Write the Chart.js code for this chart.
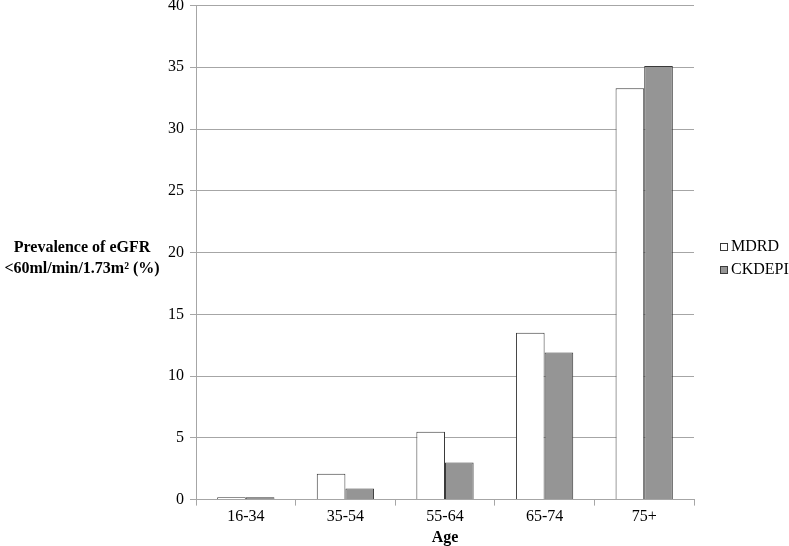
<!DOCTYPE html>
<html>
<head>
<meta charset="utf-8">
<script src="https://cdn.jsdelivr.net/npm/chart.js@4"></script>
<style>
  html, body { margin: 0; padding: 0; background: #fff; }
  #wrap { width: 789px; height: 546px; }
</style>
</head>
<body>
<div id="wrap"><canvas id="ageChart" width="789" height="546"></canvas></div>
<script>
// Chart data
const ageGroups = ['16-34', '35-54', '55-64', '65-74', '75+'];
const mdrdValues = [0.2, 2.1, 5.5, 13.5, 33.3];
const ckdepiValues = [0.2, 0.9, 3.0, 11.9, 35.1];
const yTitleLines = ['Prevalence of eGFR', '<60ml/min/1.73m\u00B2 (%)'];

const serif = "'Liberation Serif', 'Times New Roman', serif";
const gridGray = '#a6a6a6';
const edgeColor = '#3a3a3a';

// horizontal y axis title on the left and the legend on the right
const sideText = {
    id: 'sideText',
    afterDraw(chart) {
        const ctx = chart.ctx;
        ctx.save();
        ctx.font = 'bold 16px ' + serif;
        ctx.fillStyle = '#000';
        ctx.textAlign = 'center';
        ctx.textBaseline = 'middle';
        ctx.fillText(yTitleLines[0], 82, 248);
        ctx.fillText(yTitleLines[1], 82, 269);

        // legend
        ctx.font = '16px ' + serif;
        ctx.textAlign = 'left';
        chart.data.datasets.forEach(function (ds, i) {
            const y = 247 + i * 23;
            ctx.fillStyle = ds.backgroundColor;
            ctx.fillRect(720.5, y - 3.5, 7, 7);
            ctx.strokeStyle = edgeColor;
            ctx.lineWidth = 1;
            ctx.strokeRect(720.5, y - 3.5, 7, 7);
            ctx.fillStyle = '#000';
            ctx.fillText(ds.label, 731, y);
        });
        ctx.restore();
    }
};

const ctx = document.getElementById('ageChart').getContext('2d');
new Chart(ctx, {
    type: 'bar',
    data: {
        labels: ageGroups,
        datasets: [
            {
                label: 'MDRD',
                data: mdrdValues,
                backgroundColor: '#ffffff',
                borderColor: edgeColor,
                borderWidth: 1
            },
            {
                label: 'CKDEPI',
                data: ckdepiValues,
                backgroundColor: '#959595',
                borderColor: edgeColor,
                borderWidth: 1
            }
        ]
    },
    options: {
        responsive: false,
        animation: false,
        layout: { padding: { left: 162, top: 5.5, right: 95, bottom: -1 } },
        datasets: { bar: { categoryPercentage: 0.575, barPercentage: 1 } },
        plugins: {
            legend: { display: false },
            tooltip: { enabled: false }
        },
        scales: {
            x: {
                grid: { drawOnChartArea: false, color: gridGray, tickLength: 6 },
                border: { color: gridGray },
                ticks: { font: { family: serif, size: 16 }, color: '#000', padding: 2 },
                title: {
                    display: true,
                    text: 'Age',
                    font: { family: serif, size: 16, weight: 'bold' },
                    color: '#000',
                    padding: { top: -1, bottom: 0 }
                }
            },
            y: {
                min: 0,
                max: 40,
                ticks: { stepSize: 5, font: { family: serif, size: 16 }, color: '#000', padding: 6 },
                grid: { color: gridGray, tickLength: 6 },
                border: { color: gridGray },
                // let the top label hang over the canvas edge like the original
                afterFit: function (scale) { scale.paddingTop = 0; }
            }
        }
    },
    plugins: [sideText]
});
</script>
</body>
</html>
